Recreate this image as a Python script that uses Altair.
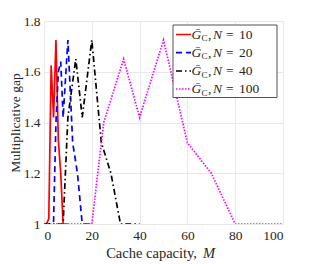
import altair as alt
import pandas as pd

# ---- data ----
m10 = [0, 1, 2, 3, 4, 5, 6, 7, 8, 9, 10]
g10 = [1.0, 1.0, 1.02, 1.625, 1.42, 1.725, 1.33, 1.2, 1.0, 1.0, 1.0]

m20 = [0, 2, 3, 4, 5, 6, 7, 8, 10, 12, 14, 15, 16, 18, 20]
g20 = [1.0, 1.0, 1.0, 1.01, 1.4, 1.6, 1.64, 1.42, 1.725, 1.32, 1.2, 1.1, 1.0, 1.0, 1.0]

m40 = [0, 4, 8, 10, 13.3, 16, 20, 24, 28, 30, 32, 36, 40]
g40 = [1.0, 1.0, 1.0, 1.42, 1.65, 1.42, 1.725, 1.32, 1.2, 1.1, 1.0, 1.0, 1.0]

m100 = [0, 10, 20, 25, 33.3, 40, 50, 60, 70, 75, 80, 90, 100]
g100 = [1.0, 1.0, 1.0, 1.4, 1.65, 1.42, 1.725, 1.32, 1.2, 1.1, 1.0, 1.0, 1.0]

series = ["N10", "N20", "N40", "N100"]
n_labels = ["10", "20", "40", "100"]
colors = ["#ff0000", "#0000ff", "#000000", "#ff00ff"]
dashes = [[1, 0], [6, 4], [6, 3, 1.5, 3], [1.5, 1.5]]

x_ticks = [0, 20, 40, 60, 80, 100]
y_ticks = [1.0, 1.2, 1.4, 1.6, 1.8]

rows = []
for s, ms, gs in zip(series, [m10, m20, m40, m100], [g10, g20, g40, g100]):
    for m, g in zip(ms, gs):
        rows.append({"series": s, "M": m, "gap": g})
df = pd.DataFrame(rows)

W, H = 239, 203
FONT = "Liberation Serif"
TXT = "#262626"
FS = 13.5

lines = alt.Chart(df).mark_line(strokeWidth=1.7, clip=True).encode(
    x=alt.X("M:Q", scale=alt.Scale(domain=[0, 100], nice=False),
            axis=alt.Axis(values=x_ticks, title=None, grid=True, ticks=False,
                          domain=False, labelFont=FONT, labelFontSize=13.5,
                          labelColor=TXT, labelPadding=4, gridColor="#e8e8e8")),
    y=alt.Y("gap:Q", scale=alt.Scale(domain=[1, 1.8], nice=False, zero=False),
            axis=alt.Axis(values=y_ticks, format="~g", title="Multiplicative gap",
                          grid=True, ticks=False, domain=False, labelFont=FONT,
                          labelFontSize=13.5, labelColor=TXT, labelPadding=4,
                          titleFont=FONT, titleFontSize=13.5, titleFontWeight="normal",
                          titleColor=TXT, titlePadding=1, gridColor="#e8e8e8")),
    color=alt.Color("series:N", scale=alt.Scale(domain=series, range=colors), legend=None),
    strokeDash=alt.StrokeDash("series:N", scale=alt.Scale(domain=series, range=dashes), legend=None),
    detail="series:N",
)

layers = [lines]

# x-axis title, with italic M
layers.append(alt.Chart(pd.DataFrame({"t": ["Cache capacity,"]})).mark_text(
    font=FONT, fontSize=14.5, color=TXT, align="right", baseline="alphabetic").encode(
    text="t:N", x=alt.value(153), y=alt.value(H + 34)))
layers.append(alt.Chart(pd.DataFrame({"t": ["M"]})).mark_text(
    font=FONT, fontSize=14.5, fontStyle="italic", color=TXT, align="left", baseline="alphabetic").encode(
    text="t:N", x=alt.value(159), y=alt.value(H + 34)))

# legend box
LX0, LX1, LY0, LY1 = 129, 233, 4, 76.5
layers.append(alt.Chart(pd.DataFrame({"a": [0]})).mark_rect(
    fill="white", stroke="#262626", strokeWidth=0.8).encode(
    x=alt.value(LX0), x2=alt.value(LX1), y=alt.value(LY0), y2=alt.value(LY1)))

row_y = [13.5, 31.7, 50, 68]
for s, nl, c, d, yy in zip(series, n_labels, colors, dashes, row_y):
    layers.append(alt.Chart(pd.DataFrame({"a": [0]})).mark_rule(
        color=c, strokeWidth=1.7, strokeDash=d).encode(
        x=alt.value(132), x2=alt.value(147), y=alt.value(yy)))
    layers.append(alt.Chart(pd.DataFrame({"t": ["Ḡ"]})).mark_text(
        font=FONT, fontSize=FS, fontStyle="italic", color=TXT, align="left", baseline="middle").encode(
        text="t:N", x=alt.value(147.5), y=alt.value(yy)))
    layers.append(alt.Chart(pd.DataFrame({"t": ["C"]})).mark_text(
        font=FONT, fontSize=9, color=TXT, align="left", baseline="middle").encode(
        text="t:N", x=alt.value(157.5), y=alt.value(yy + 3.5)))
    layers.append(alt.Chart(pd.DataFrame({"t": [","]})).mark_text(
        font=FONT, fontSize=FS, color=TXT, align="left", baseline="middle").encode(
        text="t:N", x=alt.value(164), y=alt.value(yy)))
    layers.append(alt.Chart(pd.DataFrame({"t": ["N"]})).mark_text(
        font=FONT, fontSize=FS, fontStyle="italic", color=TXT, align="left", baseline="middle").encode(
        text="t:N", x=alt.value(169), y=alt.value(yy)))
    layers.append(alt.Chart(pd.DataFrame({"t": ["="]})).mark_text(
        font=FONT, fontSize=FS, color=TXT, align="left", baseline="middle").encode(
        text="t:N", x=alt.value(182), y=alt.value(yy)))
    layers.append(alt.Chart(pd.DataFrame({"t": [nl]})).mark_text(
        font=FONT, fontSize=FS, color=TXT, align="left", baseline="middle").encode(
        text="t:N", x=alt.value(195), y=alt.value(yy)))

chart = alt.layer(*layers).properties(
    width=W, height=H,
    autosize=alt.AutoSizeParams(type="none"),
    padding={"left": 36, "top": 13, "right": 21, "bottom": 40},
).configure_view(stroke="#262626", strokeWidth=0.9).configure(background="white")

chart.save("out.html", embed_options={"renderer": "svg", "actions": False})
